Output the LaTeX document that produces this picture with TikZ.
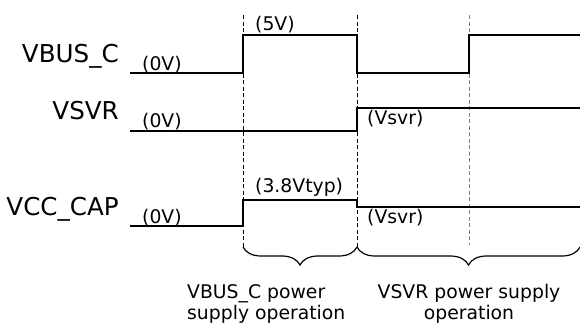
\documentclass[tikz,border=0pt]{standalone}
\usepackage{fontspec}
\setmainfont{DejaVu Sans}
\usetikzlibrary{decorations.pathreplacing}
\begin{document}
\begin{tikzpicture}[
        x=1pt, y=-1pt,
        every node/.style={inner sep=0pt},
        signame/.style={font=\fontsize{24.6}{28}\selectfont, anchor=base east},
        level/.style={font=\fontsize{18.8}{21}\selectfont, anchor=base west},
        phase/.style={font=\fontsize{18.8}{21}\selectfont, anchor=base},
        wave/.style={line width=1.6pt, line join=miter},
        guide/.style={line width=0.8pt, dash pattern=on 4pt off 2.5pt},
        bracket/.style={line width=1.2pt, decorate, decoration={brace, mirror, amplitude=18pt}}
        ]
        \useasboundingbox (0,0) rectangle (580,325);

        % Timing marks
        \coordinate (t1) at (243,15);
        \coordinate (t2) at (357,15);
        \coordinate (t3) at (469,15);
        \coordinate (b1) at (243,247);
        \coordinate (b2) at (357,247);
        \coordinate (b3) at (469,245);
        \coordinate (bend) at (580,247);

        \draw[guide] (t1) -- (b1);
        \draw[guide] (t2) -- (b2);
        \draw[guide, draw=black!50] (t3) -- (b3);

        % Signal names
        \node[signame] (vbus) at (119,62) {VBUS\_C};
        \node[signame] (vsvr) at (119,119) {VSVR};
        \node[signame] (vcc) at (119,215) {VCC\_CAP};

        % Waveforms
        \draw[wave] (130,73) -- (243,73) -- (243,35) -- (357,35) -- (357,73)
            -- (469,73) -- (469,35) -- (580,35);
        \draw[wave] (130,131) -- (357,131) -- (357,108) -- (580,108);
        \draw[wave] (130,226) -- (243,226) -- (243,200) -- (357,200) -- (357,207)
            -- (580,207);

        % Levels
        \node[level] (vbuslow) at (142,70) {(0V)};
        \node[level] (vbushigh) at (255,30) {(5V)};
        \node[level] (vsvrlow) at (142,127) {(0V)};
        \node[level] (vsvrhigh) at (367,124) {(Vsvr)};
        \node[level] (vcclow) at (142,223) {(0V)};
        \node[level] (vcchigh) at (255,192) {(3.8Vtyp)};
        \node[level] (vccsvr) at (367,223) {(Vsvr)};

        % Operating phases
        \draw[bracket] (b1) -- (b2);
        \draw[bracket] (b2) -- (bend);
        \node[phase, anchor=base west, align=left] (busop) at (187,319) {VBUS\_C power\\supply operation};
        \node[phase, align=center] (svrop) at (469,319) {VSVR power supply\\operation};

    \end{tikzpicture}
\end{document}
